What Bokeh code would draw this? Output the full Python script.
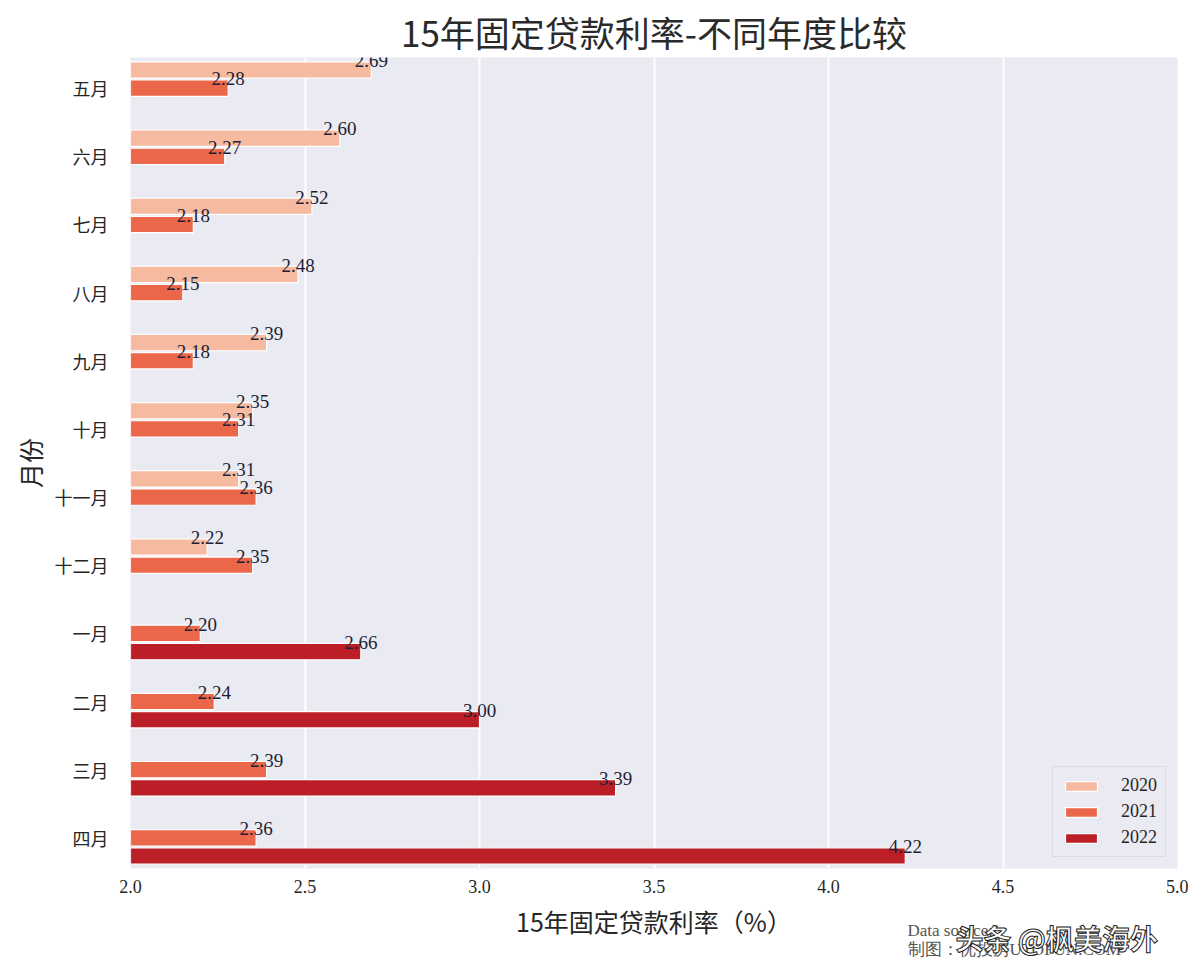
from bokeh.plotting import figure
from bokeh.models import ColumnDataSource, FixedTicker, Legend, LegendItem, Title
from bokeh.core.properties import value
from bokeh.embed import file_html
from bokeh.resources import INLINE

months = ["五月", "六月", "七月", "八月", "九月", "十月", "十一月", "十二月", "一月", "二月", "三月", "四月"]
years = ["2020", "2021", "2022"]
rate_2020 = [2.69, 2.60, 2.52, 2.48, 2.39, 2.35, 2.31, 2.22, None, None, None, None]
rate_2021 = [2.28, 2.27, 2.18, 2.15, 2.18, 2.31, 2.36, 2.35, 2.20, 2.24, 2.39, 2.36]
rate_2022 = [None, None, None, None, None, None, None, None, 2.66, 3.00, 3.39, 4.22]
x_ticks = [2.0, 2.5, 3.0, 3.5, 4.0, 4.5, 5.0]

colors = ["#F6BAA0", "#EA674A", "#BC1E27"]
series = [rate_2020, rate_2021, rate_2022]
offsets = [-0.267, 0.0, 0.267]
bar_h = 0.24

CJK = "Noto Sans CJK SC"
SERIF = "Liberation Serif"

p = figure(width=1188, height=962, output_backend="svg", toolbar_location=None,
           x_range=(2.0, 5.0), y_range=(11.45, -0.45),
           min_border_left=130, min_border_right=11, min_border_top=57, min_border_bottom=94,
           background_fill_color="#EAEAF2", border_fill_color="white",
           title="15年固定贷款利率-不同年度比较")
p.outline_line_color = None

p.title.align = "center"
p.title.text_font = CJK
p.title.text_font_size = "35px"
p.title.text_font_style = "normal"
p.title.text_color = "#2a2a2a"
p.title.standoff = 1

legend_items = []
for yr, vals, off, col in zip(years, series, offsets, colors):
    ys = [i + off for i, v in enumerate(vals) if v is not None]
    xs = [v for v in vals if v is not None]
    src = ColumnDataSource(dict(y=ys, right=xs, lab=["%.2f" % v for v in xs],
                                ty=[y - bar_h / 2 - 0.015 for y in ys]))
    r = p.hbar(y="y", left=0, right="right", height=bar_h, source=src,
               fill_color=col, line_color="white", line_width=1.2)
    legend_items.append(LegendItem(label=yr, renderers=[r]))
    p.text(x="right", y="ty", text="lab", source=src, text_align="center",
           text_baseline="alphabetic", text_font=value(SERIF), text_font_size="19px",
           text_color="#1f1f33")

legend = Legend(items=legend_items, location="bottom_right",
                label_text_font=SERIF, label_text_font_size="18px", label_text_color="#262626",
                glyph_width=40, glyph_height=12, spacing=5, padding=8, margin=11,
                label_height=20, background_fill_color="#EAEAF2", background_fill_alpha=0.9,
                border_line_color="#CCCCCC", border_line_width=1, label_standoff=20)
p.add_layout(legend)

p.xaxis.ticker = FixedTicker(ticks=x_ticks)
p.xaxis.major_label_overrides = {t: "%.1f" % t for t in x_ticks}
p.yaxis.ticker = FixedTicker(ticks=list(range(len(months))))
p.yaxis.major_label_overrides = {i: m for i, m in enumerate(months)}

for ax in (p.xaxis, p.yaxis):
    ax.axis_line_color = None
    ax.major_tick_line_color = None
    ax.minor_tick_line_color = None
    ax.major_tick_out = 0
    ax.major_tick_in = 0
    ax.major_label_text_color = "#262626"
    ax.axis_label_text_font = CJK
    ax.axis_label_text_font_size = "25px"
    ax.axis_label_text_font_style = "normal"
    ax.axis_label_text_color = "#262626"

p.xaxis.major_label_text_font = SERIF
p.xaxis.major_label_text_font_size = "18px"
p.xaxis.major_label_standoff = 11
p.xaxis.axis_label = "15年固定贷款利率（%）"
p.xaxis.axis_label_standoff = 7

p.yaxis.major_label_text_font = CJK
p.yaxis.major_label_text_font_size = "18px"
p.yaxis.major_label_standoff = 22
p.yaxis.axis_label = "月份"
p.yaxis.axis_label_standoff = 4

p.xgrid.grid_line_color = "white"
p.xgrid.grid_line_width = 2
p.ygrid.grid_line_color = None

# caption lines and watermark, in the panel below the x axis
caption = Title(text="Data source:\n制图：优投房UTOFUN.COM", align="left", offset=777,
                vertical_align="top", standoff=-42, text_font=SERIF, text_font_size="17px",
                text_font_style="normal", text_color="#555555")
watermark = Title(text="头条 @枫美海外", align="left", offset=825,
                  vertical_align="top", standoff=-48, text_font=CJK, text_font_size="28px",
                  text_font_style="bold", text_color="white", text_outline_color="#222222")
p.add_layout(caption, "below")
p.add_layout(watermark, "below")

open("out.html", "w").write(file_html(p, INLINE))
